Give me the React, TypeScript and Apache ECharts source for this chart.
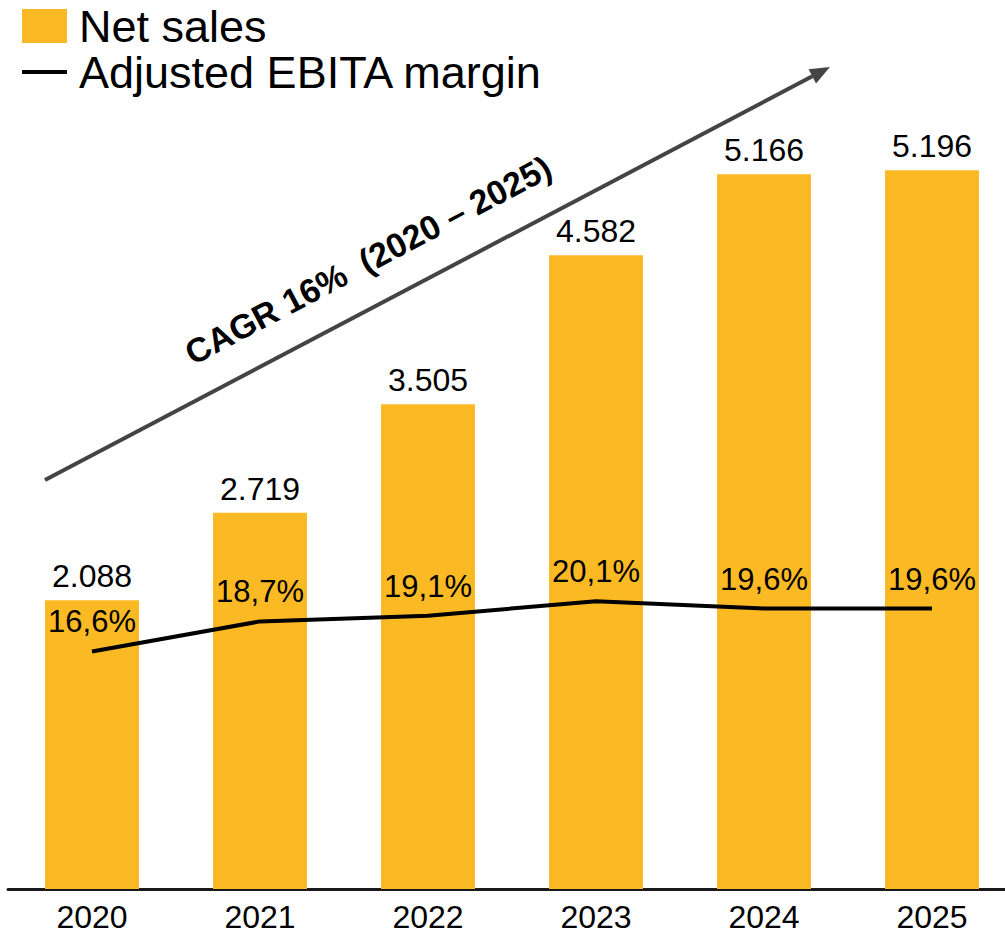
import React, { useEffect, useRef } from "react";
import * as echarts from "echarts";

const categories = ["2020", "2021", "2022", "2023", "2024", "2025"];
const netSales = [2.088, 2.719, 3.505, 4.582, 5.166, 5.196];
const ebitaMargin = [16.6, 18.7, 19.1, 20.1, 19.6, 19.6];
const seriesNames = ["Net sales", "Adjusted EBITA margin"];
const cagrText = "CAGR 16%\u00a0\u00a0(2020 – 2025)";

const FONT = "'Liberation Sans', Arial, Helvetica, sans-serif";

export default function App() {
  const ref = useRef<HTMLDivElement>(null);
  useEffect(() => {
    if (!ref.current) return;
    const chart = echarts.init(ref.current, undefined, { renderer: "svg" });
    // arrow geometry
    const x1 = 45, y1 = 480, tx = 830, ty = 67;
    const dx = tx - x1, dy = ty - y1;
    const len = Math.sqrt(dx * dx + dy * dy);
    const ux = dx / len, uy = dy / len;
    const nx = -uy, ny = ux;
    const headL = 20, headW = 8;
    const bx = tx - headL * ux, by = ty - headL * uy;
    const angle = Math.atan2(-dy, dx);

    chart.setOption({
      animation: false,
      textStyle: { fontFamily: FONT },
      legend: {
        left: 20,
        top: 3,
        orient: "vertical",
        itemWidth: 45,
        itemHeight: 34,
        itemGap: 0,
        padding: 0,
        selectedMode: false,
        textStyle: { fontSize: 45, lineHeight: 46, color: "#000", fontFamily: FONT, padding: [0, 0, 0, 7] },
        data: [
          { name: seriesNames[0], icon: "rect" },
          { name: seriesNames[1], itemStyle: { opacity: 0 }, lineStyle: { width: 4, color: "#000" } },
        ],
      },
      grid: { left: 8, top: 59, width: 1008, height: 830 },
      xAxis: {
        type: "category",
        data: categories,
        axisLine: { lineStyle: { color: "#1a1a1a", width: 3 } },
        axisTick: { show: false },
        axisLabel: { fontSize: 32, color: "#000", margin: 12, fontFamily: FONT },
      },
      yAxis: [
        { type: "value", min: 0, max: 6, show: false, splitLine: { show: false } },
        { type: "value", min: 0, max: 58, show: false, splitLine: { show: false } },
      ],
      series: [
        {
          name: seriesNames[0],
          type: "bar",
          data: netSales,
          barWidth: 94,
          itemStyle: { color: "#FBBA24" },
          label: {
            show: true,
            position: "top",
            distance: 8,
            fontSize: 32,
            color: "#000",
            fontFamily: FONT,
            formatter: (p: any) => Number(p.value).toFixed(3),
          },
        },
        {
          name: seriesNames[1],
          type: "line",
          yAxisIndex: 1,
          data: ebitaMargin,
          symbol: "circle",
          symbolSize: 2,
          z: 5,
          lineStyle: { color: "#000", width: 4 },
          itemStyle: { color: "rgba(0,0,0,0)" },
          label: {
            show: true,
            position: "top",
            distance: 13,
            fontSize: 31,
            color: "#000",
            fontFamily: FONT,
            formatter: (p: any) => Number(p.value).toFixed(1).replace(".", ",") + "%",
          },
        },
      ],
      graphic: [
        {
          type: "line",
          shape: { x1, y1, x2: bx, y2: by },
          style: { stroke: "#444", lineWidth: 4 },
        },
        {
          type: "polygon",
          shape: {
            points: [
              [tx, ty],
              [bx + headW * nx, by + headW * ny],
              [bx - headW * nx, by - headW * ny],
            ],
          },
          style: { fill: "#444" },
        },
        {
          type: "text",
          x: 368,
          y: 260,
          rotation: angle,
          style: {
            text: cagrText,
            font: `bold 34px ${FONT}`,
            fill: "#000",
            textAlign: "center",
            textVerticalAlign: "middle",
          },
        },
      ],
    });
    return () => chart.dispose();
  }, []);
  return (
    <div style={{ position: "absolute", left: 0, top: 0, width: 1005, height: 936, overflow: "hidden" }}>
      <div ref={ref} style={{ width: 1016, height: 936 }} />
    </div>
  );
}
